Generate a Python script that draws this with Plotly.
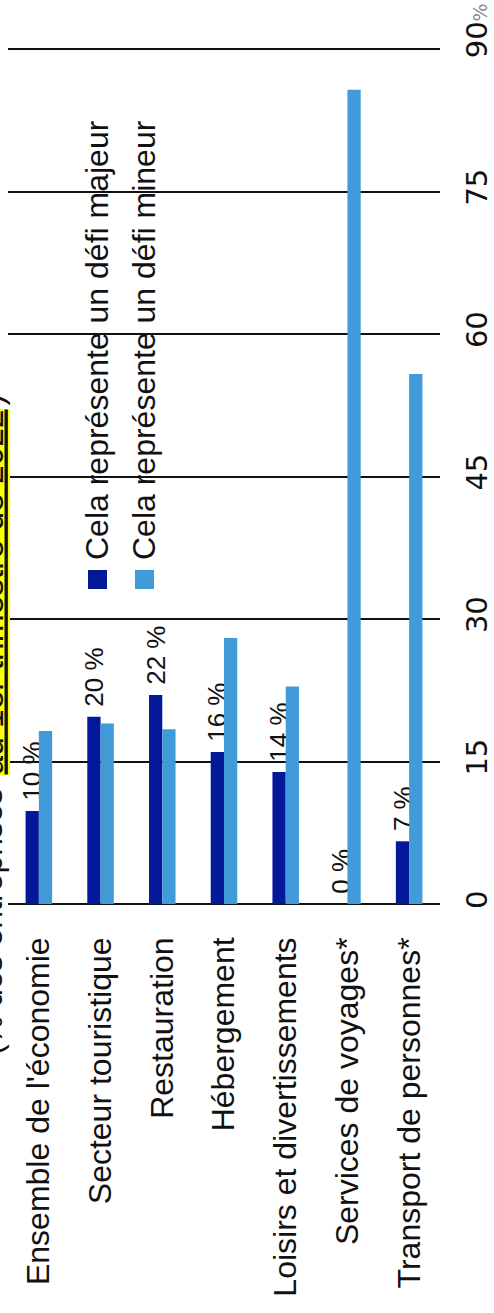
import plotly.graph_objects as go

categories = ["Ensemble de l'économie", "Secteur touristique", "Restauration",
              "Hébergement", "Loisirs et divertissements", "Services de voyages*",
              "Transport de personnes*"]
majeur = [9.8, 19.7, 22.0, 16.0, 13.9, 0.0, 6.6]
mineur = [18.2, 19.0, 18.4, 28.0, 22.9, 85.7, 55.8]
majeur_labels = ["10 %", "20 %", "22 %", "16 %", "14 %", "0 %", "7 %"]
series_names = ["Cela représente un défi majeur", "Cela représente un défi mineur"]
tick_vals = [0, 15, 30, 45, 60, 75, 90]
tick_text = ["0", "15", "30", "45", "60", "75",
             "\u00a0" * 3 + "90<span style='color:#8a8a8a;font-size:19px'>%</span>"]
title_parts = ["(% des entreprises", "au 1er trimestre de 2022", ")"]

colors = ["#04189A", "#429BD9"]
FONT = "Arial, Liberation Sans, sans-serif"
TICK_FONT = "DejaVu Sans, sans-serif"

W, H = 494, 1313
PLOT_LEFT, PLOT_RIGHT = 8, 440
Y0_PX, Y90_PX = 904, 49          # pixel rows of the 0 and 90 gridlines
EXTRA_TOP = 3                    # small headroom so the 90 gridline is drawn
unit = (Y0_PX - Y90_PX) / 90.0
ymax = 90 + EXTRA_TOP / unit
L, R = PLOT_LEFT, W - PLOT_RIGHT
T, B = Y90_PX - EXTRA_TOP, H - Y0_PX
PW, PH = W - L - R, H - T - B


def px(x):
    return (x - L) / PW


def py(y):
    return (H - B - y) / PH


fig = go.Figure()
fig.add_trace(go.Bar(
    x=categories, y=majeur, name=series_names[0],
    marker=dict(color=colors[0], line=dict(width=0)),
    text=["\u00a0" + t for t in majeur_labels],
    textposition="outside", textangle=-90, constraintext="none",
    textfont=dict(size=26, color="#111111", family=FONT),
    cliponaxis=False, showlegend=False,
))
fig.add_trace(go.Bar(
    x=categories, y=mineur, name=series_names[1],
    marker=dict(color=colors[1], line=dict(width=0)),
    showlegend=False,
))

annotations = []
shapes = []
# legend (rotated)
for i, (name, col) in enumerate(zip(series_names, colors)):
    cx = 97 + 47 * i
    annotations.append(dict(
        text=name, textangle=-90, xref="paper", yref="paper",
        x=px(cx), y=py(340), xanchor="center", yanchor="middle",
        showarrow=False, borderpad=0,
        font=dict(size=32, color="#111111", family=FONT)))
    sx = 88 + 47 * i
    shapes.append(dict(type="rect", xref="paper", yref="paper",
                       x0=px(sx), x1=px(sx + 19), y0=py(589), y1=py(570),
                       fillcolor=col, line=dict(width=0), layer="above"))

# clipped title at the left edge
annotations.append(dict(
    text=title_parts[0], textangle=-90, xref="paper", yref="paper",
    x=px(10), y=py(922), xanchor="right", yanchor="middle",
    showarrow=False, borderpad=0,
    font=dict(size=32, color="#111111", family=FONT)))
annotations.append(dict(
    text="<u>" + title_parts[1] + "</u>", textangle=-90, xref="paper", yref="paper",
    x=px(10), y=py(592), xanchor="right", yanchor="middle",
    showarrow=False, borderpad=0, bgcolor="#FFFF00",
    font=dict(size=33.5, color="#111111", family=FONT)))
annotations.append(dict(
    text=title_parts[2], textangle=-90, xref="paper", yref="paper",
    x=px(10), y=py(400), xanchor="right", yanchor="middle",
    showarrow=False, borderpad=0,
    font=dict(size=33, color="#111111", family=FONT)))

fig.update_layout(
    width=W, height=H,
    margin=dict(l=L, r=R, t=T, b=B, autoexpand=False),
    paper_bgcolor="white", plot_bgcolor="white",
    barmode="group", bargap=0.57, bargroupgap=0,
    font=dict(family=FONT, color="#111111"),
    annotations=annotations, shapes=shapes,
    xaxis=dict(
        type="category", tickangle=-90, ticks="", showgrid=False,
        showline=False, zeroline=False, automargin=False,
        tickfont=dict(size=32, color="#111111", family=FONT),
        ticklabelstandoff=26,
    ),
    yaxis=dict(
        range=[0, ymax], side="right", tickvals=tick_vals, ticktext=tick_text,
        tickangle=-90, ticks="", showline=False, automargin=False,
        tickfont=dict(size=29, color="#111111", family=TICK_FONT),
        gridcolor="#111111", gridwidth=1.5,
        zeroline=True, zerolinecolor="#111111", zerolinewidth=1.5,
        ticklabelstandoff=17,
    ),
)

fig.write_html("out.html", config={"displayModeBar": False},
               post_script="document.body.style.margin='0';")
